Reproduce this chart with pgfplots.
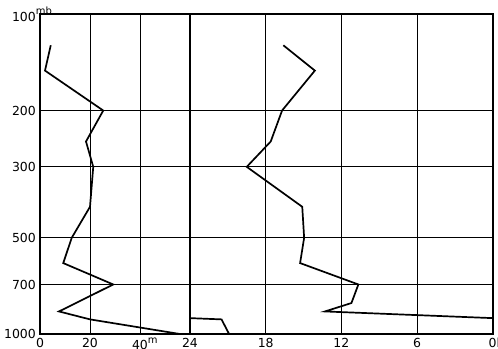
\documentclass[border=0pt]{standalone}
\usepackage{pgfplots}
\pgfplotsset{compat=1.18}
\usepackage{fontspec}
\setmainfont{DejaVu Sans}
\pgfplotsset{mypanel/.style={
  scale only axis, height=319.7bp,
  y dir=reverse, ymin=100, ymax=1000,
  ytick={100,200,300,500,700,1000},
  grid=major, major grid style={black, line width=0.9bp},
  axis line style={black, line width=1.8bp},
  tick style={draw=none},
  every tick label/.append style={font=\fontsize{12.5}{14}\selectfont},
  xticklabel style={inner ysep=1bp, yshift=-3bp},
  clip=true}}
\begin{document}
\fontsize{12}{14}\selectfont
\begin{tikzpicture}
\begin{axis}[ymode=log, mypanel, at={(40bp,15bp)}, anchor=south west, width=150bp,
  xmin=0, xmax=60, xtick={0,20,40},
  xticklabels={0,20,{40\rlap{\raisebox{0.45em}{\fontsize{10}{10}\selectfont m}}}},
  yticklabels={{100\rlap{\raisebox{0.5em}{\fontsize{10}{10}\selectfont mb}}},200,300,500,700,1000}]
\addplot[black, line width=1.7bp] coordinates {
 (4.3,125) (2.0,150) (25.3,200) (18.4,250) (21.3,300) (20,400)
 (12.7,500) (9.3,600) (29.3,700) (7.6,850) (20,900) (56,1000)};
\end{axis}
\begin{axis}[ymode=log, mypanel, at={(190bp,15bp)}, anchor=south west, width=302.7bp,
  x dir=reverse, xmin=0, xmax=24, xtick={0,6,12,18,24},
  xticklabels={{0\rlap{h}},6,12,18,24},
  yticklabels={}]
\addplot[black, line width=1.7bp] coordinates {
 (16.6,125) (14.1,150) (16.7,200) (17.6,250) (19.5,300) (15.1,400)
 (14.95,500) (15.27,600) (10.65,700) (11.2,800) (13.3,850) (-2.5,900)};
\addplot[black, line width=1.7bp] coordinates {
 (37.3,850) (21.5,900) (20.9,1000)};
\end{axis}
\pgfresetboundingbox
\path (0,0) rectangle (498bp,349bp);
\end{tikzpicture}
\end{document}
